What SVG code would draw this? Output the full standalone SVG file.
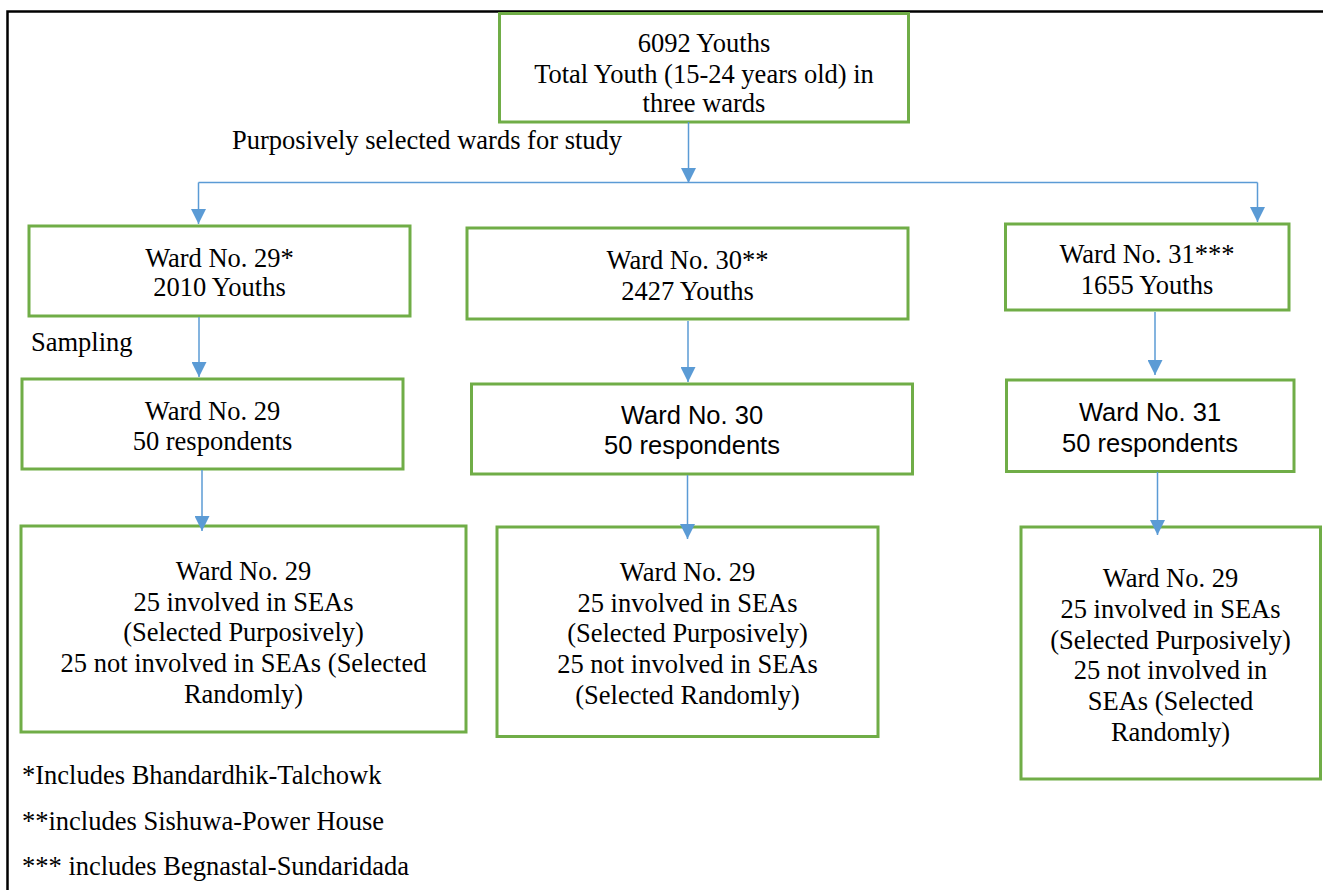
<svg xmlns="http://www.w3.org/2000/svg" width="1323" height="890" viewBox="0 0 1323 890">
<style>
.box{fill:#fff;stroke:#70AD47;stroke-width:3}
.t{font-family:"Liberation Serif","Times New Roman",serif;font-size:26.5px;fill:#000;text-anchor:middle}
.a{font-family:"Liberation Sans",Arial,sans-serif;font-size:25.5px;fill:#000;text-anchor:middle}
.l{font-family:"Liberation Serif","Times New Roman",serif;font-size:26.5px;fill:#000}
.c{fill:none;stroke:#5B9BD5;stroke-width:1.5}
</style>
<defs>
<marker id="ah" markerUnits="userSpaceOnUse" viewBox="0 0 15 15" refX="15" refY="7.5" markerWidth="15" markerHeight="15" orient="auto">
<path d="M0,0 L15,7.5 L0,15 z" fill="#5B9BD5"/>
</marker>
</defs>
<rect width="1323" height="890" fill="#fff"/>
<polyline points="7.5,890 7.5,11.5 1323,11.5" fill="none" stroke="#000" stroke-width="2.5"/>

<g id="total">
<rect class="box" x="499.5" y="13.5" width="409" height="108.5"/>
<text class="t" x="704" y="52">6092 Youths</text>
<text class="t" x="704" y="83">Total Youth (15-24 years old) in</text>
<text class="t" x="704" y="112">three wards</text>
</g>
<text id="label-purposive" class="l" x="232" y="149">Purposively selected wards for study</text>

<g id="ward29">
<rect class="box" x="29" y="226" width="381" height="90"/>
<text class="t" x="219.5" y="267">Ward No. 29*</text>
<text class="t" x="219.5" y="296">2010 Youths</text>
</g>
<g id="ward30">
<rect class="box" x="467" y="228" width="441" height="91"/>
<text class="t" x="687.5" y="269">Ward No. 30**</text>
<text class="t" x="687.5" y="300">2427 Youths</text>
</g>
<g id="ward31">
<rect class="box" x="1005.5" y="224" width="283.5" height="86"/>
<text class="t" x="1147" y="263">Ward No. 31***</text>
<text class="t" x="1147" y="294">1655 Youths</text>
</g>
<text id="label-sampling" class="l" x="31" y="351">Sampling</text>

<g id="ward29-sample">
<rect class="box" x="22" y="379" width="381" height="90"/>
<text class="t" x="212.5" y="420">Ward No. 29</text>
<text class="t" x="212.5" y="450">50 respondents</text>
</g>
<g id="ward30-sample">
<rect class="box" x="471.5" y="384" width="441" height="90"/>
<text class="a" x="692" y="424">Ward No. 30</text>
<text class="a" x="692" y="454">50 respondents</text>
</g>
<g id="ward31-sample">
<rect class="box" x="1006.5" y="380" width="287.5" height="91.5"/>
<text class="a" x="1150" y="421">Ward No. 31</text>
<text class="a" x="1150" y="452">50 respondents</text>
</g>

<g id="ward29-split">
<rect class="box" x="21" y="526" width="445" height="206"/>
<text class="t" x="243.5" y="580">Ward No. 29</text>
<text class="t" x="243.5" y="610.5">25 involved in SEAs</text>
<text class="t" x="243.5" y="641">(Selected Purposively)</text>
<text class="t" x="243.5" y="672">25 not involved in SEAs (Selected</text>
<text class="t" x="243.5" y="702.5">Randomly)</text>
</g>
<g id="ward30-split">
<rect class="box" x="497" y="527" width="381" height="209.5"/>
<text class="t" x="687.5" y="581">Ward No. 29</text>
<text class="t" x="687.5" y="612">25 involved in SEAs</text>
<text class="t" x="687.5" y="642">(Selected Purposively)</text>
<text class="t" x="687.5" y="673">25 not involved in SEAs</text>
<text class="t" x="687.5" y="704">(Selected Randomly)</text>
</g>
<g id="ward31-split">
<rect class="box" x="1021" y="527" width="299.5" height="252"/>
<text class="t" x="1170.5" y="587">Ward No. 29</text>
<text class="t" x="1170.5" y="618">25 involved in SEAs</text>
<text class="t" x="1170.5" y="648.5">(Selected Purposively)</text>
<text class="t" x="1170.5" y="679">25 not involved in</text>
<text class="t" x="1170.5" y="710">SEAs (Selected</text>
<text class="t" x="1170.5" y="740.5">Randomly)</text>
</g>

<g id="footnotes">
<text class="l" x="22" y="784">*Includes Bhandardhik-Talchowk</text>
<text class="l" x="22" y="830">**includes Sishuwa-Power House</text>
<text class="l" x="22" y="875">*** includes Begnastal-Sundaridada</text>
</g>

<g id="connectors">
<line class="c" x1="688.5" y1="122" x2="688.5" y2="183" marker-end="url(#ah)"/>
<line class="c" x1="198.5" y1="182.5" x2="1257.5" y2="182.5"/>
<line class="c" x1="198.5" y1="182.5" x2="198.5" y2="224" marker-end="url(#ah)"/>
<line class="c" x1="1257.5" y1="182.5" x2="1257.5" y2="222" marker-end="url(#ah)"/>
<line class="c" x1="199" y1="317" x2="199" y2="377" marker-end="url(#ah)"/>
<line class="c" x1="688" y1="321" x2="688" y2="382" marker-end="url(#ah)"/>
<line class="c" x1="1155" y1="312" x2="1155" y2="375" marker-end="url(#ah)"/>
<line class="c" x1="202" y1="470" x2="202" y2="531" marker-end="url(#ah)"/>
<line class="c" x1="687.5" y1="475" x2="687.5" y2="539" marker-end="url(#ah)"/>
<line class="c" x1="1157.5" y1="472" x2="1157.5" y2="535" marker-end="url(#ah)"/>
</g>
</svg>
